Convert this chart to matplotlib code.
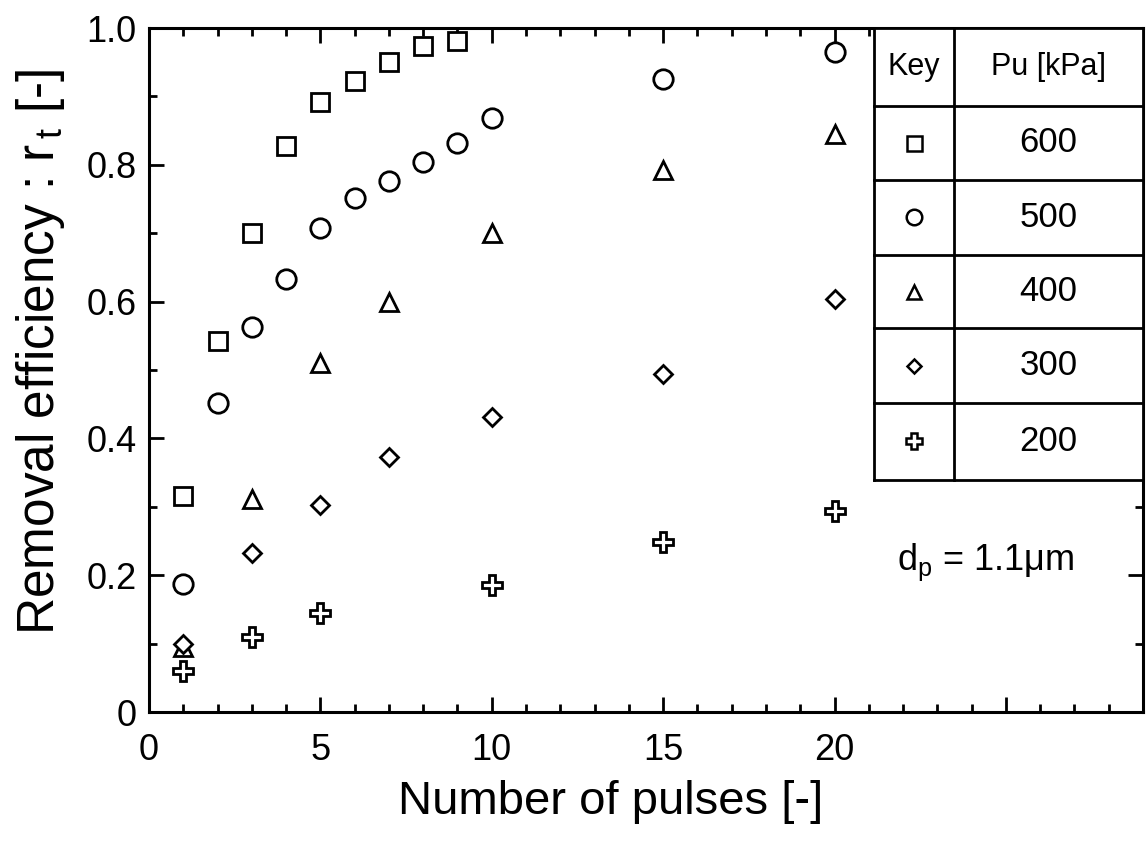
import matplotlib
matplotlib.use('Agg')
import matplotlib.pyplot as plt
from matplotlib.ticker import MultipleLocator, FixedLocator, FixedFormatter
from matplotlib.patches import Rectangle

plt.rcParams['font.family'] = ['Liberation Sans', 'DejaVu Sans']
plt.rcParams['mathtext.fontset'] = 'custom'
plt.rcParams['mathtext.rm'] = 'Liberation Sans'
plt.rcParams['mathtext.it'] = 'Liberation Sans:italic'

# ---- data ----
pulses_600 = [1, 2, 3, 4, 5, 6, 7, 8, 9]
eff_600 = [0.316, 0.542, 0.700, 0.827, 0.892, 0.922, 0.950, 0.974, 0.981]
pulses_500 = [1, 2, 3, 4, 5, 6, 7, 8, 9, 10, 15, 20]
eff_500 = [0.187, 0.452, 0.563, 0.633, 0.708, 0.751, 0.776, 0.804, 0.832, 0.868, 0.926, 0.965]
pulses_400 = [1, 3, 5, 7, 10, 15, 20]
eff_400 = [0.095, 0.312, 0.510, 0.600, 0.700, 0.792, 0.845]
pulses_300 = [1, 3, 5, 7, 10, 15, 20]
eff_300 = [0.100, 0.232, 0.303, 0.373, 0.431, 0.494, 0.604]
pulses_200 = [1, 3, 5, 10, 15, 20]
eff_200 = [0.060, 0.110, 0.145, 0.186, 0.249, 0.294]

pressure_labels = ['600', '500', '400', '300', '200']
xtick_vals = [0, 5, 10, 15, 20, 25]
xtick_labels = ['0', '5', '10', '15', '20', '']
ytick_vals = [0, 0.2, 0.4, 0.6, 0.8, 1.0]
ytick_labels = ['0', '0.2', '0.4', '0.6', '0.8', '1.0']

series = [
    (pulses_600, eff_600, 's', 13.5),
    (pulses_500, eff_500, 'o', 14),
    (pulses_400, eff_400, '^', 13),
    (pulses_300, eff_300, 'D', 9.5),
    (pulses_200, eff_200, 'P', 14.5),
]

fig = plt.figure(figsize=(11.48, 8.46), dpi=100)
ax = fig.add_axes([149 / 1148, 1 - 712 / 846, 994 / 1148, 684 / 846])

for xs, ys, m, ms in series:
    ax.plot(xs, ys, linestyle='none', marker=m, markersize=ms,
            markerfacecolor='white', markeredgecolor='black',
            markeredgewidth=2.0, zorder=3)

ax.set_xlim(0, 29)
ax.set_ylim(0, 1.0)
ax.xaxis.set_major_locator(FixedLocator(xtick_vals))
ax.xaxis.set_major_formatter(FixedFormatter(xtick_labels))
ax.xaxis.set_minor_locator(MultipleLocator(1))
ax.yaxis.set_major_locator(FixedLocator(ytick_vals))
ax.yaxis.set_major_formatter(FixedFormatter(ytick_labels))
ax.yaxis.set_minor_locator(MultipleLocator(0.1))

ax.tick_params(which='both', direction='in', top=True, right=True, width=2.0, colors='black')
ax.tick_params(which='major', length=11)
ax.tick_params(which='minor', length=6)
ax.tick_params(axis='x', which='major', labelsize=26, pad=15)
ax.tick_params(axis='y', which='major', labelsize=26, pad=9)
for sp in ax.spines.values():
    sp.set_linewidth(2.2)

ax.set_xlabel('Number of pulses [-]', fontsize=34)
ax.xaxis.set_label_coords(0.464, -0.10)
ax.set_ylabel('Removal efficiency : r$_{\\,\\mathrm{t}}$ [-]', fontsize=37)
ax.yaxis.set_label_coords(-0.082, 0.526)

ax.text(0.842, 0.219, 'd$_\\mathrm{p}$ = 1.1\u03bcm', transform=ax.transAxes,
        fontsize=26, ha='center', va='center')

# ---- key table ----
tx0, tx1, tx2 = 0.729, 0.810, 1.0
row_edges = [1.0, 0.886, 0.778, 0.668, 0.561, 0.452, 0.339]
ax.add_patch(Rectangle((tx0, row_edges[-1]), tx2 - tx0, 1.0 - row_edges[-1],
                       transform=ax.transAxes, facecolor='white', edgecolor='none',
                       zorder=4, clip_on=False))
lw = 2.0
for yy in row_edges:
    ax.plot([tx0, tx2], [yy, yy], transform=ax.transAxes, color='black', lw=lw,
            zorder=5, clip_on=False, solid_capstyle='projecting')
for xx in (tx0, tx1, tx2):
    ax.plot([xx, xx], [row_edges[-1], 1.0], transform=ax.transAxes, color='black', lw=lw,
            zorder=5, clip_on=False, solid_capstyle='projecting')

cx_key = (tx0 + tx1) / 2
cx_val = (tx1 + tx2) / 2
yh = (row_edges[0] + row_edges[1]) / 2
ax.text(cx_key, yh, 'Key', transform=ax.transAxes, fontsize=22, ha='center', va='center', zorder=6)
ax.text(cx_val, yh, 'Pu [kPa]', transform=ax.transAxes, fontsize=22, ha='center', va='center', zorder=6)
for i, (lab, (xs, ys, m, ms)) in enumerate(zip(pressure_labels, series)):
    yc = (row_edges[i + 1] + row_edges[i + 2]) / 2
    ax.plot([cx_key], [yc], transform=ax.transAxes, linestyle='none', marker=m,
            markersize=ms * 0.8, markerfacecolor='white', markeredgecolor='black',
            markeredgewidth=1.8, zorder=6, clip_on=False)
    ax.text(cx_val, yc, lab, transform=ax.transAxes, fontsize=25, ha='center',
            va='center', zorder=6)

fig.savefig('out.png', dpi=100)
